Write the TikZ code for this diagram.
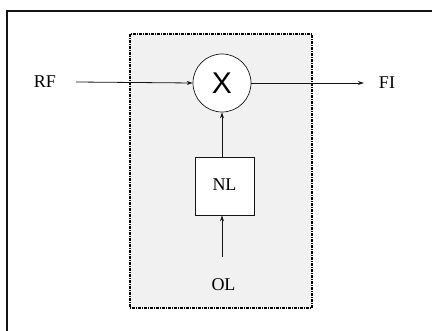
\documentclass[tikz,border=0pt]{standalone}
\usepackage{fontspec}
\setmainfont{Liberation Serif}
\newfontfamily\crossfont{Liberation Sans}
\usepackage{tikz}
\usetikzlibrary{arrows.meta, positioning, calc}
\definecolor{mydark}{RGB}{20,20,20}
\definecolor{boxgray}{RGB}{241,241,241}
\tikzset{
  lbl/.style={font=\fontsize{18}{18}\selectfont, inner sep=0pt},
  mixer/.style={circle, draw=mydark, fill=white, minimum size=58pt,
    inner sep=0pt, line width=0.7pt},
  nlbox/.style={rectangle, draw=mydark, fill=white, minimum width=59pt,
    minimum height=58pt, inner sep=0pt, line width=0.8pt,
    font=\fontsize{18}{18}\selectfont},
  arrow/.style={-{Stealth[length=6pt,width=4pt]}, line width=0.8pt, color=mydark}
}
\begin{document}
\begin{tikzpicture}[x=1pt, y=-1pt]
  \useasboundingbox (0,0) rectangle (432,331);
  % Outer frame
  \draw[line width=2pt, color=mydark] (7,11) rectangle (445,345);

  % Shaded block
  \draw[line width=1.4pt, fill=boxgray, dash pattern=on 3pt off 1pt on 1pt off 1pt]
    (130,34) rectangle (312,308);

  % Mixer and non-linear element
  \node[mixer] (mix) at (222,83) {\crossfont\fontsize{30}{30}\selectfont X};
  \node[nlbox] (nl) at (224.5,186) {\raisebox{3pt}{NL}};

  % Ports
  \node[lbl] (rf) at (45,82) {RF};
  \node[lbl] (fi) at (387,83) {FI};
  \node[lbl] (ol) at (223.5,285) {OL};

  % Signals
  \draw[arrow] ($(rf.east)+(20,0)$) -- (mix.west);
  \draw[arrow] (mix.east) -- ($(fi.west)+(-15,0)$);
  \draw[arrow] (nl.north -| mix.south) -- (mix.south);
  \draw[arrow] ($(ol.north -| mix.south)+(0,-22)$) -- (nl.south -| mix.south);
\end{tikzpicture}
\end{document}
